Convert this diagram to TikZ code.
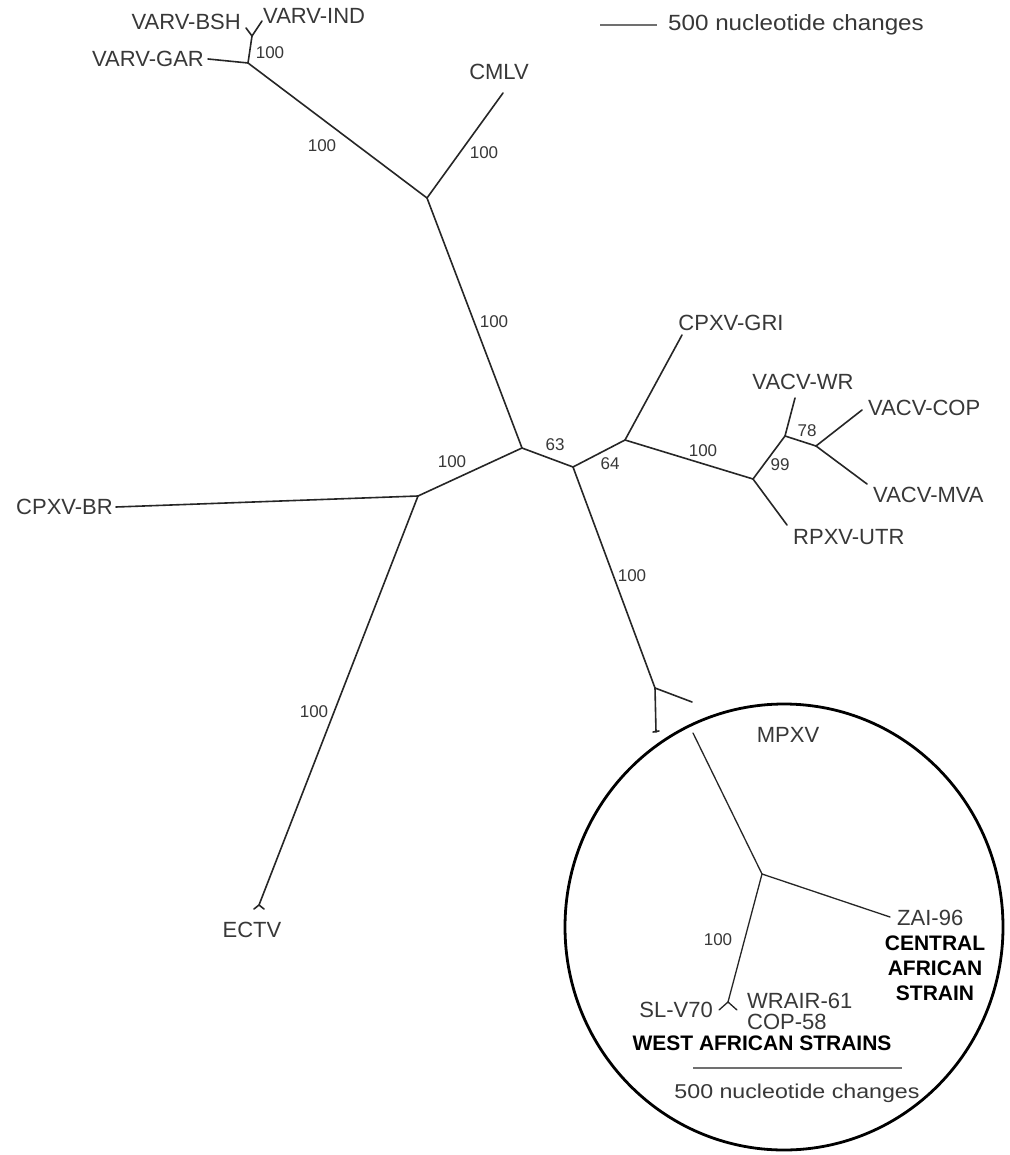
\documentclass[tikz,border=0pt]{standalone}
\usepackage{fontspec}
\setmainfont{Liberation Sans}
\usepackage{graphicx}
\definecolor{ink}{HTML}{262626}
\definecolor{txt}{HTML}{383838}
\definecolor{bar}{HTML}{707070}
\begin{document}
\begin{tikzpicture}[x=1pt,y=-1pt,
  br/.style={draw=ink,line width=1.6pt,line cap=round,line join=round},
  thin/.style={draw=ink,line width=1.3pt,line cap=round},
  leaf/.style={font=\fontsize{22}{24}\selectfont,text=txt,inner sep=0pt},
  boot/.style={font=\fontsize{17}{19}\selectfont,text=txt,inner sep=0pt},
  strain/.style={font=\fontsize{21}{25}\selectfont\bfseries,text=black,inner sep=0pt,align=center},
  scaletext/.style={text=txt,inner sep=0pt}]
\useasboundingbox[fill=white] (0,0) rectangle (1009,1155);

% internal nodes
\coordinate (A) at (522,448);
\coordinate (B) at (573,467);
\coordinate (C) at (427,198);
\coordinate (D) at (418,496);
\coordinate (E) at (248,63);
\coordinate (F) at (252,36);
\coordinate (G) at (625,440);
\coordinate (H) at (753,479);
\coordinate (I) at (785,436);
\coordinate (J) at (816,446);
\coordinate (K) at (655,688);
\coordinate (L) at (762,874);
\coordinate (M) at (728,1002);
% leaves
\coordinate (bsh) at (246,28);
\coordinate (ind) at (262,21);
\coordinate (gar) at (208,59);
\coordinate (cmlv) at (503,93);
\coordinate (cpbr) at (116,507);
\coordinate (ect) at (259,905);
\coordinate (ectl) at (254,909);
\coordinate (ectr) at (264,909);
\coordinate (gri) at (682,335);
\coordinate (wr) at (795,398);
\coordinate (cop) at (862,410);
\coordinate (mva) at (867,484);
\coordinate (utr) at (787,525);
\coordinate (kR) at (692,702);
\coordinate (kD) at (656,732);
\coordinate (kDl) at (653,732);
\coordinate (kDr) at (659,731);
\coordinate (mtop) at (693,733);
\coordinate (zai) at (890,917);
\coordinate (sl) at (719,1010);
\coordinate (wra) at (737,1010);
\coordinate (sbA) at (600,25);
\coordinate (sbB) at (657,25);
\coordinate (sbC) at (693,1068);
\coordinate (sbD) at (902,1068);

% branches
\draw[br] (A) -- (C);
\draw[br] (A) -- (D);
\draw[br] (A) -- (B);
\draw[br] (C) -- (E);
\draw[br] (C) -- (cmlv);
\draw[br] (E) -- (gar);
\draw[br] (E) -- (F);
\draw[br] (F) -- (bsh);
\draw[br] (F) -- (ind);
\draw[br] (D) -- (cpbr);
\draw[br] (D) -- (ect);
\draw[br] (ectl) -- (ect) -- (ectr);
\draw[br] (B) -- (G);
\draw[br] (G) -- (gri);
\draw[br] (G) -- (H);
\draw[br] (H) -- (I);
\draw[br] (H) -- (utr);
\draw[br] (I) -- (wr);
\draw[br] (I) -- (J);
\draw[br] (J) -- (cop);
\draw[br] (J) -- (mva);
\draw[br] (B) -- (K);
\draw[br] (K) -- (kR);
\draw[br] (K) -- (kD);
\draw[br] (kDl) -- (kDr);

% MPXV inset
\draw[black,line width=2.8pt] (784,927) ellipse[x radius=219,y radius=223];
\draw[thin] (mtop) -- (L);
\draw[thin] (L) -- (zai);
\draw[thin] (L) -- (M);
\draw[thin] (sl) -- (M) -- (wra);

% scale bars
\draw[bar,line width=1.4pt] (sbA) -- (sbB);
\draw[bar,line width=2pt] (sbC) -- (sbD);
\node[scaletext] (sbt1) at (796,25) {\scalebox{1.1}[1]{\fontsize{22}{24}\selectfont 500 nucleotide changes}};
\node[scaletext] (sbt2) at (797,1093) {\scalebox{1.16}[1]{\fontsize{20}{22}\selectfont 500 nucleotide changes}};

% leaf labels
\node[leaf,anchor=east] (tbsh) at (241,22) {VARV-BSH};
\node[leaf,anchor=west] (tind) at (263,16) {VARV-IND};
\node[leaf,anchor=east] (tgar) at (204,59) {VARV-GAR};
\node[leaf] (tcmlv) at (499,72) {CMLV};
\node[leaf,anchor=east] (tbr) at (113,507) {CPXV-BR};
\node[leaf] (tect) at (252,930) {ECTV};
\node[leaf] (tgri) at (731,323) {CPXV-GRI};
\node[leaf] (twr) at (803,382) {VACV-WR};
\node[leaf,anchor=west] (tcop) at (868,408) {VACV-COP};
\node[leaf,anchor=west] (tmva) at (873,495) {VACV-MVA};
\node[leaf,anchor=west] (tutr) at (793,537) {RPXV-UTR};
\node[leaf] (tmpx) at (788,735) {MPXV};
\node[leaf,anchor=west] (tzai) at (897,918) {ZAI-96};
\node[leaf,anchor=east] (tsl) at (713,1010) {SL-V70};
\node[leaf,anchor=west] (twra) at (747,1001) {WRAIR-61};
\node[leaf,anchor=west] (tcop58) at (747,1022) {COP-58};
\node[strain] (tcen) at (935,968) {CENTRAL\\AFRICAN\\STRAIN};
\node[strain] (twest) at (762,1043) {WEST AFRICAN STRAINS};

% bootstrap values
\node[boot] (b1) at (270,53) {100};
\node[boot] (b2) at (322,146) {100};
\node[boot] (b3) at (484,153) {100};
\node[boot] (b4) at (494,322) {100};
\node[boot] (b5) at (452,462) {100};
\node[boot] (b6) at (555,445) {63};
\node[boot] (b7) at (610,464) {64};
\node[boot] (b8) at (703,451) {100};
\node[boot] (b9) at (780,465) {99};
\node[boot] (b10) at (807,431) {78};
\node[boot] (b11) at (632,576) {100};
\node[boot] (b12) at (314,712) {100};
\node[boot] (b13) at (718,940) {100};
\end{tikzpicture}
\end{document}
